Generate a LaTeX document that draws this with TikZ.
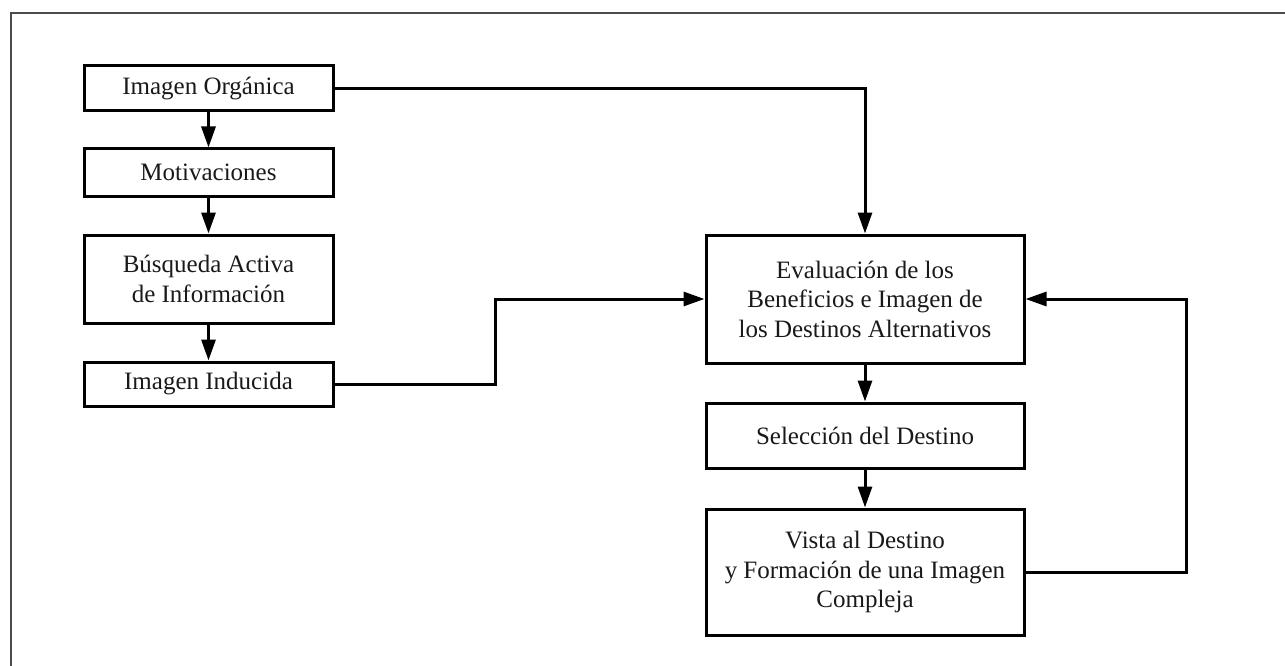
\documentclass[tikz,border=0pt]{standalone}
\usepackage{fontspec}
\setmainfont{Liberation Serif}
\usetikzlibrary{arrows.meta}
\begin{document}
\begin{tikzpicture}[x=1pt,y=-1pt,
  box/.style={draw=black,line width=3pt,align=center,inner sep=0pt,
    font=\fontsize{25}{29.5}\selectfont,text=black!90},
  conn/.style={line width=3pt,-{Triangle[length=21pt,width=14pt]}},
  lin/.style={line width=3pt}]
\useasboundingbox (0,0) rectangle (1285,666);
\draw[line width=2pt,black!70] (11,666) -- (11,13) -- (1285,13);
\node[box,minimum width=249pt,minimum height=45pt] (org) at (208.5,88.5) {Imagen Orgánica};
\node[box,minimum width=249pt,minimum height=47pt] (mot) at (208.5,172.5) {Motivaciones};
\node[box,minimum width=249pt,minimum height=88pt] (bus) at (208.5,279) {Búsqueda Activa\\de Información};
\node[box,minimum width=249pt,minimum height=44pt] (ind) at (208.5,384) {Imagen Inducida};
\node[box,minimum width=318pt,minimum height=128pt] (eva) at (865,299) {Evaluación de los\\Beneficios e Imagen de\\los Destinos Alternativos};
\node[box,minimum width=318pt,minimum height=65pt] (sel) at (865,435.5) {Selección del Destino};
\node[box,minimum width=318pt,minimum height=126pt] (vis) at (865,572) {Vista al Destino\\y Formación de una Imagen\\Compleja};
\coordinate (c1) at (495,0);
\coordinate (c2) at (1186,0);
\draw[conn] (org) -- (mot);
\draw[conn] (mot) -- (bus);
\draw[conn] (bus) -- (ind);
\draw[conn] (eva) -- (sel);
\draw[conn] (sel) -- (vis);
\draw[conn] (org.east) -| (eva.north);
\draw[conn] (ind.east) -- (ind.east -| c1) |- (eva.west);
\draw[conn] (vis.east) -- (vis.east -| c2) |- (eva.east);
\end{tikzpicture}
\end{document}
